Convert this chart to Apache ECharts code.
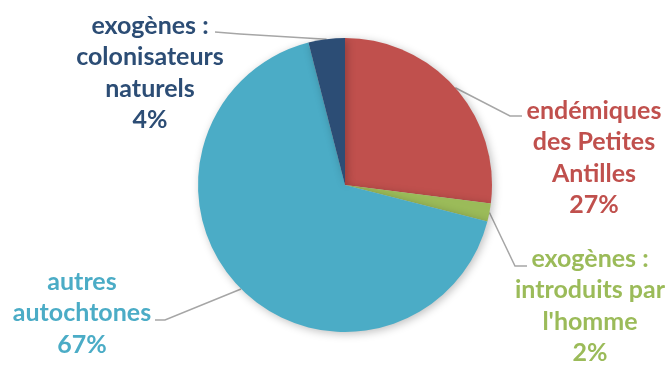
<!DOCTYPE html>
<html>
<head>
<meta charset="utf-8">
<script src="https://cdn.jsdelivr.net/npm/echarts@6/dist/echarts.min.js"></script>
<style>
html,body{margin:0;padding:0;background:#fff;}
#chart{width:669px;height:367px;}
</style>
</head>
<body>
<div id="chart"></div>
<script>
// Data
const categories = ["endémiques\ndes Petites\nAntilles", "exogènes :\nintroduits par\nl'homme", "autres\nautochtones", "exogènes :\ncolonisateurs\nnaturels"];
const values = [27, 2, 67, 4];
const colors = ["#C0504D", "#9BBB59", "#4BACC6", "#2C4D75"];

// Label placement (layout only)
const labelLayoutCfg = [
  { x: 594, y: 158, p1: [510, 116], p2: [522, 116] },
  { x: 590, y: 306, p1: [515, 266], p2: [527, 266] },
  { x: 82,  y: 313, p1: [165, 320], p2: [155, 320] },
  { x: 150, y: 73,  p1: [240, 34],  p2: [215, 32] }
];

const chart = echarts.init(document.getElementById('chart'), null, { renderer: 'canvas' });
chart.setOption({
  backgroundColor: '#ffffff',
  animation: false,
  series: [{
    type: 'pie',
    center: [345, 185],
    radius: [0, 147],
    startAngle: 90,
    clockwise: true,
    avoidLabelOverlap: false,
    data: categories.map((c, i) => ({
      name: c, value: values[i],
      itemStyle: { color: colors[i] },
      label: { color: colors[i] }
    })),
    itemStyle: {
      borderWidth: 0,
      shadowBlur: 8,
      shadowColor: 'rgba(0,0,0,0.25)',
      shadowOffsetX: 2,
      shadowOffsetY: 2
    },
    label: {
      show: true,
      formatter: p => p.name + '\n' + p.value + '%',
      fontFamily: 'Lato',
      fontWeight: 'bold',
      fontSize: 25,
      lineHeight: 31.5,
      align: 'center'
    },
    labelLine: {
      show: true,
      length: 20,
      length2: 10,
      lineStyle: { color: '#A6A6A6', width: 1.5 }
    },
    labelLayout: function (params) {
      const L = labelLayoutCfg[params.dataIndex];
      const pts = params.labelLinePoints;
      const start = pts ? pts[0] : L.p1;
      return {
        x: L.x, y: L.y, align: 'center', verticalAlign: 'middle',
        labelLinePoints: [start, L.p1, L.p2]
      };
    }
  }]
});
</script>
</body>
</html>
